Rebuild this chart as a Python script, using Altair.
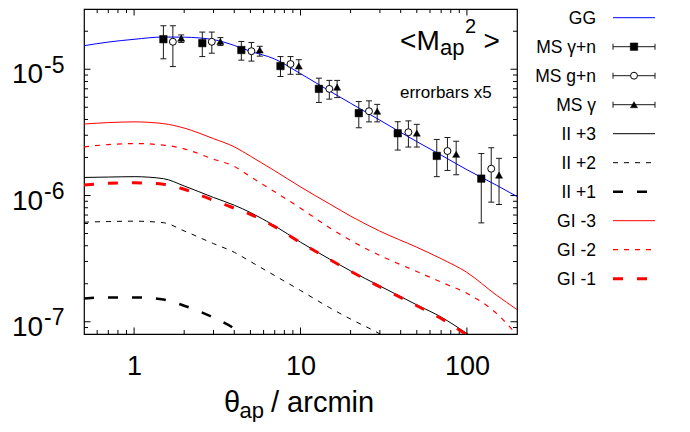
import altair as alt
import pandas as pd

# ---------------- data ----------------
theta_grid = [0.5, 0.7, 1, 1.5, 2, 3, 4, 5, 7, 10, 15, 20, 30, 50, 70, 100, 150, 200]
gg = [1.536e-5, 1.642e-5, 1.726e-5, 1.800e-5, 1.794e-5, 1.716e-5, 1.544e-5, 1.388e-5,
      1.205e-5, 9.23e-6, 6.71e-6, 5.38e-6, 3.95e-6, 2.67e-6, 2.09e-6, 1.60e-6, 1.21e-6, 9.82e-7]
gi3 = [3.68e-6, 3.78e-6, 3.83e-6, 3.71e-6, 3.42e-6, 2.82e-6, 2.43e-6, 2.05e-6, 1.57e-6,
       1.17e-6, 8.56e-7, 6.87e-7, 5.22e-7, 3.89e-7, 3.16e-7, 2.46e-7, 1.63e-7, 1.25e-7]
gi2 = [2.43e-6, 2.53e-6, 2.58e-6, 2.51e-6, 2.34e-6, 1.94e-6, 1.70e-6, 1.41e-6, 1.07e-6,
       7.94e-7, 5.54e-7, 4.41e-7, 3.35e-7, 2.50e-7, 2.06e-7, 1.68e-7, 1.17e-7, 7.87e-8]
theta_ii3 = [0.5, 0.7, 1, 1.5, 2, 3, 4, 5, 7, 10, 15, 20, 30, 50, 70, 100, 150]
ii3 = [1.39e-6, 1.40e-6, 1.41e-6, 1.36e-6, 1.19e-6, 9.65e-7, 8.38e-7, 7.33e-7, 5.75e-7,
       4.27e-7, 3.13e-7, 2.53e-7, 1.92e-7, 1.36e-7, 1.09e-7, 8.08e-8, 5.62e-8]
gi1 = [1.21e-6, 1.25e-6, 1.26e-6, 1.23e-6, 1.12e-6, 9.15e-7, 7.94e-7, 7.08e-7, 5.67e-7,
       4.24e-7, 3.11e-7, 2.51e-7, 1.89e-7, 1.34e-7, 1.06e-7, 7.87e-8, 5.43e-8]
theta_ii2 = [0.5, 0.7, 1, 1.5, 2, 3, 4, 5, 7, 10, 15, 20, 30, 50]
ii2 = [6.15e-7, 6.22e-7, 6.26e-7, 6.09e-7, 5.24e-7, 4.16e-7, 3.55e-7, 3.00e-7, 2.32e-7,
       1.77e-7, 1.29e-7, 1.05e-7, 8.01e-8, 5.15e-8]
theta_ii1 = [0.5, 0.7, 1, 1.5, 2, 3, 4, 5]
ii1 = [1.53e-7, 1.56e-7, 1.56e-7, 1.50e-7, 1.34e-7, 1.08e-7, 8.84e-8, 7.08e-8]

sq_x = [1.50, 2.57, 4.41, 7.58, 12.9, 22.4, 38.4, 65.9, 122]
sq_y = [1.73e-5, 1.61e-5, 1.42e-5, 1.06e-5, 6.99e-6, 4.49e-6, 3.11e-6, 2.06e-6, 1.36e-6]
sq_lo = [1.21e-5, 1.26e-5, 1.18e-5, 8.76e-6, 5.46e-6, 3.44e-6, 2.29e-6, 1.41e-6, 6.07e-7]
sq_hi = [2.21e-5, 1.97e-5, 1.66e-5, 1.26e-5, 8.50e-6, 5.55e-6, 3.84e-6, 2.78e-6, 2.15e-6]

ci_x = [1.71, 2.93, 5.07, 8.71, 14.9, 25.8, 44.5, 76.4, 140]
ci_y = [1.65e-5, 1.65e-5, 1.39e-5, 1.10e-5, 6.99e-6, 4.65e-6, 3.17e-6, 2.25e-6, 1.63e-6]
ci_lo = [1.05e-5, 1.34e-5, 1.16e-5, 9.12e-6, 5.80e-6, 3.83e-6, 2.42e-6, 1.58e-6, 8.86e-7]
ci_hi = [2.21e-5, 1.97e-5, 1.63e-5, 1.26e-5, 8.16e-6, 5.62e-6, 3.90e-6, 2.88e-6, 2.39e-6]

tr_x = [1.92, 3.30, 5.69, 9.77, 16.6, 28.9, 50.0, 86.2, 156]
tr_y = [1.76e-5, 1.66e-5, 1.42e-5, 1.06e-5, 7.21e-6, 4.65e-6, 3.12e-6, 2.12e-6, 1.45e-6]
tr_lo = [1.63e-5, 1.54e-5, 1.27e-5, 9.12e-6, 5.96e-6, 3.83e-6, 2.42e-6, 1.46e-6, 8.49e-7]
tr_hi = [1.87e-5, 1.78e-5, 1.52e-5, 1.19e-5, 8.16e-6, 5.27e-6, 3.66e-6, 2.69e-6, 1.97e-6]

x_label_vals = [1, 10, 100]
y_label_vals = [1e-5, 1e-6, 1e-7]
y_label_base = ["10", "10", "10"]
y_label_exp = ["-5", "-6", "-7"]
x_major = [1, 10, 100]
x_minor = [0.6, 0.7, 0.8, 0.9, 2, 3, 4, 5, 6, 7, 8, 9, 20, 30, 40, 50, 60, 70, 80, 90]
y_major = [1e-7, 1e-6, 1e-5]
y_minor = [9e-8, 2e-7, 3e-7, 4e-7, 5e-7, 6e-7, 7e-7, 8e-7, 9e-7,
           2e-6, 3e-6, 4e-6, 5e-6, 6e-6, 7e-6, 8e-6, 9e-6, 2e-5]
legend_labels = ["GG", "MS γ+n", "MS g+n", "MS γ", "II +3", "II +2", "II +1",
                 "GI -3", "GI -2", "GI -1"]
title_pieces = ["<", "M", "ap", "2", ">"]
note_text = ["errorbars x5"]
xtitle_pieces = ["θ", "ap", "/ arcmin"]

# ---------------- layout / style ----------------
W, H = 433, 325
FONT = "Liberation Sans"
EB = "#1a1a1a"
BLUE = "#0000ff"
RED = "#ff0000"

xs = alt.Scale(type="log", domain=[0.5, 200], nice=False)
ys = alt.Scale(type="log", domain=[8e-8, 3e-5], nice=False)
xaxis = alt.Axis(values=x_label_vals, format="d", title="", ticks=False, tickSize=0,
                 domain=False, grid=False, labelFontSize=27, labelFont=FONT,
                 labelColor="black", labelPadding=40, labelBaseline="alphabetic",
                 labelFlush=False, labelOverlap=False)


def X(f):
    return alt.X(f, type="quantitative", scale=xs, axis=xaxis)


def Y(f):
    return alt.Y(f, type="quantitative", scale=ys, axis=None)


def curve(xv, yv, color, width, dash=None):
    df = pd.DataFrame({"theta": xv, "m": yv})
    props = dict(color=color, strokeWidth=width, clip=True, interpolate="monotone")
    if dash:
        props["strokeDash"] = dash
    return alt.Chart(df).mark_line(**props).encode(x=X("theta"), y=Y("m"))


def point_props(shape):
    if shape == "circle":
        return dict(shape="circle", filled=True, fill="white", stroke="black",
                    strokeWidth=1, size=48, opacity=1)
    if shape == "square":
        return dict(shape="square", filled=True, fill="black", stroke="black",
                    strokeWidth=0.5, size=56, opacity=1)
    return dict(shape="triangle-up", filled=True, fill="black", stroke="black",
                strokeWidth=0.5, size=50, opacity=1)


def series(xv, yv, lo, hi, shape):
    df = pd.DataFrame({"theta": xv, "m": yv, "lo": lo, "hi": hi})
    b = alt.Chart(df)
    bar = b.mark_rule(color=EB, strokeWidth=1).encode(x=X("theta"), y=Y("lo"), y2=alt.Y2("hi"))
    cap1 = b.mark_tick(orient="horizontal", color=EB, size=6, thickness=1, opacity=1).encode(
        x=X("theta"), y=Y("lo"))
    cap2 = b.mark_tick(orient="horizontal", color=EB, size=6, thickness=1, opacity=1).encode(
        x=X("theta"), y=Y("hi"))
    pt = b.mark_point(**point_props(shape)).encode(x=X("theta"), y=Y("m"))
    return [bar, cap1, cap2], [pt]


def xticks(vals, ln):
    b = alt.Chart(pd.DataFrame({"v": vals}))
    return [
        b.mark_rule(color="black", strokeWidth=1).encode(x=X("v"), y=alt.value(H), y2=alt.value(H - ln)),
        b.mark_rule(color="black", strokeWidth=1).encode(x=X("v"), y=alt.value(0), y2=alt.value(ln)),
    ]


def yticks(vals, ln):
    b = alt.Chart(pd.DataFrame({"v": vals}))
    return [
        b.mark_rule(color="black", strokeWidth=1).encode(y=Y("v"), x=alt.value(0), x2=alt.value(ln)),
        b.mark_rule(color="black", strokeWidth=1).encode(y=Y("v"), x=alt.value(W), x2=alt.value(W - ln)),
    ]


def label(text, x, y, size, align="left"):
    return alt.Chart(pd.DataFrame({"t": [text]})).mark_text(
        font=FONT, fontSize=size, align=align, baseline="alphabetic", color="black"
    ).encode(x=alt.value(x), y=alt.value(y), text="t:N")


main_layers = []
main_layers += xticks(x_major, 6.5) + xticks(x_minor, 4)
main_layers += yticks(y_major, 6.5) + yticks(y_minor, 4)

main_layers += [
    curve(theta_ii1, ii1, "black", 2.5, [10, 14]),
    curve(theta_ii2, ii2, "black", 1, [5, 6]),
    curve(theta_ii3, ii3, "black", 1),
    curve(theta_ii3, gi1, RED, 3, [10, 14]),
    curve(theta_grid, gi2, RED, 1.2, [5, 6]),
    curve(theta_grid, gi3, RED, 1),
    curve(theta_grid, gg, BLUE, 1),
]

bars, pts = [], []
for args in [(sq_x, sq_y, sq_lo, sq_hi, "square"),
             (ci_x, ci_y, ci_lo, ci_hi, "circle"),
             (tr_x, tr_y, tr_lo, tr_hi, "triangle")]:
    b_, p_ = series(*args)
    bars += b_
    pts += p_
main_layers += bars + pts

# y-axis labels 10^n drawn on the y scale
ylab = alt.Chart(pd.DataFrame({"v": y_label_vals, "b": y_label_base, "e": y_label_exp}))
main_layers.append(ylab.mark_text(font=FONT, fontSize=28, align="left", baseline="alphabetic",
                                  dy=14.2, color="black").encode(x=alt.value(-72), y=Y("v"), text="b:N"))
main_layers.append(ylab.mark_text(font=FONT, fontSize=23, align="left", baseline="alphabetic",
                                  dy=3.5, color="black").encode(x=alt.value(-40), y=Y("v"), text="e:N"))

# <M_ap^2> annotation
tp = [(316, 41, 28), (332.4, 41, 28), (356, 46, 22), (381, 24.3, 20), (399.5, 41, 28)]
for t, (px, py, fs) in zip(title_pieces, tp):
    main_layers.append(label(t, px, py, fs))
main_layers.append(label(note_text[0], 316, 89.3, 17))

# x title θ_ap / arcmin
xp = [(140, 403, 29), (155.5, 408.5, 22), (187, 403, 29)]
for t, (px, py, fs) in zip(xtitle_pieces, xp):
    main_layers.append(label(t, px, py, fs))

main = alt.layer(*main_layers)

# ---------------- legend ----------------
ly = alt.Y("label:N", scale=alt.Scale(type="point", domain=legend_labels, range=[8.7, 269.7],
                                     padding=0), axis=None)
LX0, LX1, LXM = 529, 571, 550
leg_layers = [
    alt.Chart(pd.DataFrame({"label": legend_labels})).mark_text(
        font=FONT, fontSize=17.5, align="right", baseline="alphabetic", dy=6.3, color="black"
    ).encode(x=alt.value(512), y=ly, text="label:N")
]
line_styles = {
    "GG": (BLUE, 1, None), "II +3": ("black", 1, None), "II +2": ("black", 1, [5, 6]),
    "II +1": ("black", 2.5, [10, 14]), "GI -3": (RED, 1, None), "GI -2": (RED, 1.2, [5, 6]),
    "GI -1": (RED, 3, [10, 14]),
}
err_styles = {"MS γ+n": "square", "MS g+n": "circle", "MS γ": "triangle"}
for lab in legend_labels:
    c = alt.Chart(pd.DataFrame({"label": [lab]}))
    if lab in line_styles:
        col, wd, dash = line_styles[lab]
        props = dict(color=col, strokeWidth=wd)
        if dash:
            props["strokeDash"] = dash
        leg_layers.append(c.mark_rule(**props).encode(x=alt.value(LX0), x2=alt.value(LX1), y=ly))
    else:
        leg_layers.append(c.mark_rule(color=EB, strokeWidth=1).encode(
            x=alt.value(LX0), x2=alt.value(LX1), y=ly))
        for cx in (LX0, LX1):
            leg_layers.append(c.mark_tick(orient="vertical", color=EB, size=6, thickness=1,
                                          opacity=1).encode(x=alt.value(cx), y=ly))
        leg_layers.append(c.mark_point(**point_props(err_styles[lab])).encode(
            x=alt.value(LXM), y=ly))

legend = alt.layer(*leg_layers)

chart = alt.layer(main, legend).resolve_scale(y="independent").properties(
    width=W, height=H,
    autosize=alt.AutoSizeParams(type="none"),
    padding={"left": 76, "top": 1, "right": 165, "bottom": 88},
    background="white",
).configure(font=FONT).configure_view(stroke="black", strokeWidth=1.2)

chart.save("out.html", embed_options={"renderer": "svg", "actions": False})
